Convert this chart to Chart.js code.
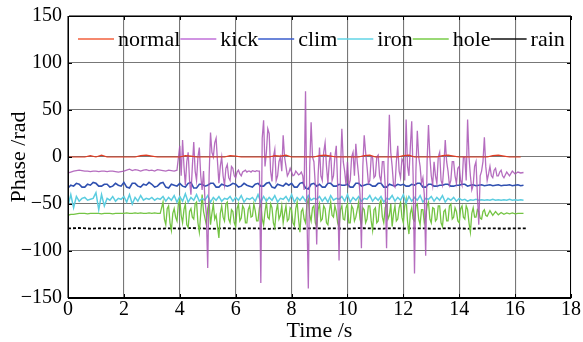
<!DOCTYPE html>
<html><head><meta charset="utf-8">
<script src="https://cdn.jsdelivr.net/npm/chart.js@4"></script>
<style>html,body{margin:0;padding:0;background:#fff}#c{display:block}</style>
</head><body>
<canvas id="c" width="583" height="342"></canvas>
<script>
// ---------- data ----------
const seriesNames = ['normal', 'kick', 'clim', 'iron', 'hole', 'rain'];
const xTickValues = [0, 2, 4, 6, 8, 10, 12, 14, 16, 18];
const yTickValues = [-150, -100, -50, 0, 50, 100, 150];

// each segment: start time (s), sample spacing (s), values
const normalValues = [
  0, 0, 0, 0, 1.5, 0, 2, 0, 0, 0,
  0, 0, 0, 1.5, 2, 1, 0, 0, 0, 0,
  0, 1.5, 1, 0, 0, 0, 0, 0, 0, 1.5,
  1, 0, 0, 0, 0, 0, 0, 1.5, 1, 2,
  0, 0, 0, 0, 0, 1.5, 2, 1, 0, 0,
  0, 0, 0, 1.5, 2, 0, 0, 0, 0, 0,
  1.5, 2, 0, 0, 0, 0, 0, 1.5, 2, 1,
  0, 0, 0, 0, 0, 0, 1.5, 2, 1, 0,
  0, 0
];
const kickQuiet1 = [
  -17, -16, -15, -14.5, -14, -14.5, -15, -15, -15.5, -15,
  -15, -15.5, -15, -15, -15.5, -15, -15, -15.5, -16, -15.5,
  -15, -14, -13, -14.5, -13.5, -14, -15, -14, -13.5, -14.5,
  -14, -15, -13.5, -14, -14.5, -15, -14, -14.5, -15, -14
];
const kickActive = [
  12, -20, 18, -10, -30, -5, 5, -25, -40, -10, 16, -15, -25, 0, 10, -20, -35, -15, -45, -60,
  -118, -20, 26, 5, 0, 15, 20, -5, -28, -10, 0, -20, -30, -12, -8, -22, -25, -10, -12, -20,
  -22, -16, -14, -18, -20, -16, -15, -14, -16, -15, -15, -16, -14.5, -15, -15.5, -14.5, -15, -15, -134, 20,
  39, -10, 5, 30, 25, -15, -26, 0, 8, -25, -20, -5, 0, -15, 23, 0, -10, -20, -17, -12,
  -16, -20, -19, -15, -17, -19, -18, -16, -20, -35, 70, -60, -140, -10, 37, 0, -5, -30, -93, -20,
  10, -20, -25, 5, 15, -10, -28, -5, 5, -25, -20, 0, 12, -30, -110, -15, 30, -5, -15, -30,
  -5, -30, -25, 0, 5, -20, 14, -5, -20, -40, -97, -10, 23, 5, -10, -28, -25, 0, 0, -22,
  -20, 0, 2, -20, -26, -5, -5, -30, -97, -10, 45, 5, -10, -30, -32, -5, 12, -15, -22, -2,
  -5, -25, 40, -10, -20, 10, 38, -20, -124, -15, 28, 0, -10, -28, -22, -40, -105, -5, 34, 0,
  -20, -30, -5, -20, -28, 0, 5, -25, -30, -10, 18, -5, -15, -30, -25, -5, -5, -20, -28, -12,
  -10, -25, -30, 0, 0, -25, 40, 0, -20, -35, -30, -10, -5, -40, -72, -20, -15, -5, 21, -10,
  -25, -18, -10, -20, -22, -14, -12, -20, -20, -16, -14, -20
];
const kickQuiet2 = [-22, -16, -20, -15, -18, -16, -17, -16.5];
const climValues = [
  -33, -30, -31, -28, -29, -32, -32, -29, -30, -27,
  -28, -31, -31, -29, -29, -32, -31, -28, -30, -31,
  -27, -32, -33, -28, -28, -31, -32, -29, -30, -27,
  -29, -32, -31, -28, -27, -32, -33, -29, -30, -31,
  -28, -31, -32, -28, -27, -33, -33, -29, -29, -31,
  -30, -28, -28, -32, -32, -29, -30, -31, -30, -28,
  -29, -32, -31, -28, -30, -31, -32, -29, -28, -31,
  -31, -28, -27, -32, -33, -29, -30, -31, -28, -30,
  -28, -32, -32, -28, -27, -33, -34, -29, -28, -31,
  -29, -32, -32, -28, -28, -31, -31, -29, -30, -30,
  -29, -32, -32, -28, -28, -31, -30, -29, -29, -31,
  -31, -28, -28, -32, -32, -29, -30, -31, -29, -30,
  -29, -31, -31, -29, -30, -28, -28, -32, -32, -29,
  -29, -31, -31, -30, -30, -29, -29, -31, -31, -30,
  -30, -29, -29, -31, -30, -29.5, -30.5, -30, -29.5, -30.5,
  -30, -29.5, -30.5, -30, -29.5, -30.5, -30, -30, -29.5, -30.5,
  -30, -29.5, -30.5, -30
];
const ironValues = [
  -52, -40, -54, -42, -47, -44, -43, -46, -45, -44,
  -38, -56, -40, -52, -44, -46, -42, -47, -44, -45,
  -42, -48, -40, -50, -43, -47, -41, -46, -44, -45,
  -43, -46, -44, -45, -42, -47, -43, -46, -41, -48,
  -42, -47, -39, -48, -43, -46, -40, -47, -44, -46,
  -41, -48, -43, -46, -42, -47, -44, -45, -42, -47,
  -43, -46, -41, -48, -44, -45, -43, -47, -40, -48,
  -42, -47, -43, -46, -41, -48, -44, -45, -42, -47,
  -40, -48, -43, -46, -42, -47, -41, -46, -44, -45,
  -42, -47, -43, -48, -41, -46, -44, -45, -42, -47,
  -40, -48, -43, -46, -42, -47, -44, -45, -41, -47,
  -43, -46, -42, -48, -44, -45, -41, -47, -43, -46,
  -40, -49, -42, -47, -43, -46, -41, -48, -44, -45,
  -42, -47, -43, -46, -41, -48, -44, -46, -43, -47,
  -44, -46, -45, -47, -45.5, -46, -45, -46, -45.5, -46,
  -45.5, -46, -45, -46, -45.5, -46, -45.5, -46, -45, -46,
  -45.5, -46, -45.5, -46
];
const holeQuiet1 = [
  -62, -61, -61, -60.5, -60, -60, -60, -60.5, -60, -60,
  -60, -60, -60.5, -60, -60, -60, -60.5, -60, -60, -60,
  -60, -59.5, -60, -60, -59.5, -60, -59.5, -60, -60, -59.5,
  -60, -59.5, -60, -60
];
const holeActive = [
  -48, -66, -72, -55, -52, -70, -78, -60, -55, -64, -68, -50, -45, -62, -70, -56, -50, -72, -75, -58,
  -55, -64, -66, -50, -48, -70, -80, -60, -40, -58, -65, -72, -55, -48, -72, -60, -50, -66, -62, -74,
  -86, -60, -52, -64, -68, -50, -48, -66, -70, -56, -58, -70, -74, -55, -50, -68, -65, -52, -55, -70,
  -70, -56, -52, -64, -63, -50, -57, -68, -68, -54, -50, -66, -72, -58, -48, -64, -66, -50, -54, -70,
  -75, -58, -50, -66, -62, -52, -70, -60, -52, -68, -66, -54, -56, -70, -73, -55, -48, -66, -80, -58,
  -55, -66, -70, -50, -45, -62, -68, -54, -52, -70, -74, -56, -50, -68, -66, -52, -55, -70, -72, -58,
  -48, -62, -64, -52, -58, -70, -75, -56, -52, -66, -67, -54, -50, -70, -70, -52, -55, -68, -64, -56,
  -48, -66, -72, -54, -56, -70, -66, -52, -52, -68, -78, -56, -54, -70, -68, -50, -46, -64, -70, -54,
  -50, -66, -62, -50, -74, -60, -52, -68, -66, -54, -48, -64, -70, -52, -45, -68, -82, -60, -54, -66,
  -68, -52, -50, -66, -72, -56, -56, -70, -64, -52, -48, -66, -70, -54, -55, -68, -66, -52, -52, -70,
  -74, -58, -56, -68, -68, -52, -50, -66, -64, -54, -58, -68, -70, -55, -52, -64, -66, -52, -56, -70,
  -80, -60, -54, -64, -64, -56, -58, -65, -66, -58, -56, -62
];
const holeQuiet2 = [-63, -57, -62, -58, -61.5, -59, -61, -59.5, -60.5, -59.5, -60.5, -60, -60, -60];
const rainValues = [
  -76, -75.5, -76.2, -75.8, -76, -76.4, -75.7, -76, -76.3, -75.9,
  -76.1, -75.6, -76, -76.3, -75.8, -76.2, -75.9, -76, -76.4, -75.7,
  -76, -76.2, -75.8, -76.1, -75.9, -76.3, -75.7, -76, -76.2, -75.8,
  -76.1, -75.9, -76, -76.3, -75.8, -76, -76.2, -75.9, -76, -76.1,
  -76, -76
];

// ---------- chart ----------
function seg(start, step, values) {
  return values.map((v, i) => ({ x: Math.round((start + i * step) * 1000) / 1000, y: v }));
}
const seriesData = [
  seg(0, 0.2, normalValues),
  [...seg(0, 0.1, kickQuiet1), ...seg(4.0, 0.05, kickActive), ...seg(15.6, 0.1, kickQuiet2)],
  seg(0, 0.1, climValues),
  seg(0, 0.1, ironValues),
  [...seg(0, 0.1, holeQuiet1), ...seg(3.4, 0.05, holeActive), ...seg(15.0, 0.1, holeQuiet2)],
  seg(0, 0.4, rainValues)
];
const lineColors = ['#e23c22', 'rgba(168,84,180,0.85)', '#2f50b0', '#5ccde0', '#74c444', '#000000'];
const legendColors = ['#f2603e', '#c070d8', '#3a5ccc', '#62d4e6', '#78cc48', '#111111'];
const widths = [1.2, 1.3, 1.6, 1.5, 1.3, 1.8];

const FONT = '"Liberation Serif", "Times New Roman", serif';

const boxPlugin = {
  id: 'boxTicks',
  afterDraw(chart) {
    const { ctx, chartArea: a, scales } = chart;
    ctx.save();
    ctx.setLineDash([]);
    ctx.strokeStyle = '#000';
    ctx.lineWidth = 1;
    ctx.strokeRect(Math.round(a.left) + 0.5, Math.round(a.top) + 0.5,
                   Math.round(a.right - a.left) - 1, Math.round(a.bottom - a.top) - 1);
    ctx.beginPath();
    xTickValues.forEach(v => {
      const px = Math.round(scales.x.getPixelForValue(v)) + 0.5;
      ctx.moveTo(px, a.top); ctx.lineTo(px, a.top + 4);
      ctx.moveTo(px, a.bottom); ctx.lineTo(px, a.bottom - 4);
    });
    yTickValues.forEach(v => {
      const py = Math.round(scales.y.getPixelForValue(v)) + 0.5;
      ctx.moveTo(a.left, py); ctx.lineTo(a.left + 4, py);
      ctx.moveTo(a.right, py); ctx.lineTo(a.right - 4, py);
    });
    ctx.stroke();

    // legend row
    ctx.font = '22px ' + FONT;
    ctx.textBaseline = 'middle';
    ctx.textAlign = 'left';
    const ly = a.top + 23;
    let x = a.left + 10;
    seriesNames.forEach((name, i) => {
      ctx.strokeStyle = legendColors[i];
      ctx.lineWidth = 1.5;
      ctx.beginPath();
      ctx.moveTo(x, ly); ctx.lineTo(x + 36, ly);
      ctx.stroke();
      x += 40;
      ctx.fillStyle = '#000';
      ctx.fillText(name, x, ly + 1.5);
      x += ctx.measureText(name).width;
    });
    ctx.restore();
  }
};

const fmt = v => (v < 0 ? '\u2212' + Math.abs(v) : String(v));

new Chart(document.getElementById('c'), {
  type: 'line',
  data: {
    datasets: seriesNames.map((n, i) => ({
      label: n,
      data: seriesData[i],
      borderColor: lineColors[i],
      backgroundColor: lineColors[i],
      borderWidth: widths[i],
      borderDash: i === 5 ? [3, 2] : [],
      pointRadius: 0,
      tension: 0,
      fill: false
    }))
  },
  options: {
    responsive: false,
    animation: false,
    devicePixelRatio: 1,
    layout: { padding: { left: 0, right: 10, top: 14, bottom: 0 } },
    plugins: { legend: { display: false }, tooltip: { enabled: false } },
    scales: {
      x: {
        type: 'linear', min: 0, max: 18,
        afterBuildTicks: s => { s.ticks = xTickValues.map(v => ({ value: v })); },
        afterFit: s => { s.height = 44; },
        grid: { color: 'rgba(95,95,95,0.85)', lineWidth: 1.1, drawTicks: false },
        border: { display: true, color: '#000' },
        ticks: { color: '#000', font: { family: FONT, size: 20, lineHeight: 1 }, padding: 2, callback: fmt, maxRotation: 0 },
        title: { display: true, text: 'Time /s', color: '#000', font: { family: FONT, size: 22, lineHeight: 1 }, padding: { top: 0, bottom: 0 } }
      },
      y: {
        type: 'linear', min: -150, max: 150,
        afterBuildTicks: s => { s.ticks = yTickValues.map(v => ({ value: v })); },
        afterFit: s => { s.width = 68; },
        grid: { color: 'rgba(95,95,95,0.85)', lineWidth: 1.1, drawTicks: false },
        border: { display: true, color: '#000' },
        ticks: { color: '#000', font: { family: FONT, size: 20, lineHeight: 1 }, padding: 6, callback: fmt },
        title: { display: true, text: 'Phase /rad', color: '#000', font: { family: FONT, size: 22, lineHeight: 1 }, padding: { top: 8, bottom: 0 } }
      }
    }
  },
  plugins: [boxPlugin]
});
</script>
</body></html>
